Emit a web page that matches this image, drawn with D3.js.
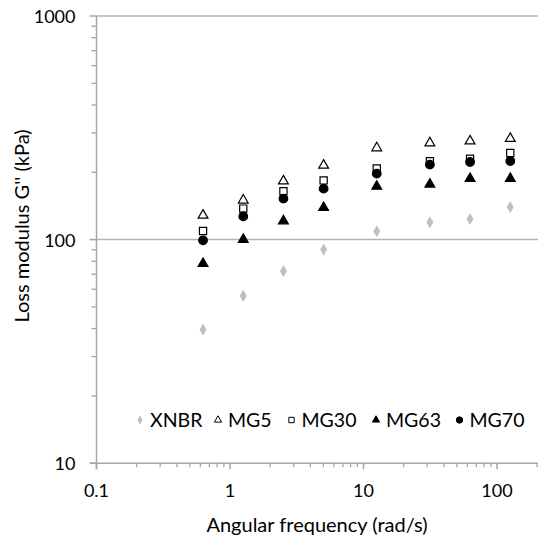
<!DOCTYPE html>
<html>
<head>
<meta charset="utf-8">
<script src="https://cdn.jsdelivr.net/npm/d3@7"></script>
<style>
  html, body { margin: 0; padding: 0; background: #fff; }
  svg { display: block; font-family: Lato, "Open Sans", sans-serif; }
</style>
</head>
<body>
<div id="chart"></div>
<script>
// angular frequency (rad/s)
const frequencies = [0.628, 1.257, 2.513, 5.027, 12.57, 31.42, 62.83, 125.7];

// loss modulus G'' (kPa) per sample
const xnbr = [39.6, 56, 72.4, 90.2, 108.9, 119.5, 123.6, 139.9];
const mg5  = [128.4, 150, 182.8, 215, 257, 270.4, 276, 283];
const mg30 = [109.3, 137.6, 164.4, 184, 207.8, 224, 230, 244];
const mg63 = [78.1, 100, 121.1, 139, 173, 176.8, 187.4, 187.4];
const mg70 = [99.3, 127, 152.5, 169, 197.3, 216.5, 222.4, 224.7];

const seriesNames = ["XNBR", "MG5", "MG30", "MG63", "MG70"];
const seriesValues = [xnbr, mg5, mg30, mg63, mg70];

const xTickValues = [0.1, 1, 10, 100];
const yTickValues = [10, 100, 1000];

function renderChart() {
  const W = 538, H = 540;
  const margin = { top: 16, left: 96.5 };
  const decadeX = 133.5, decadeY = 223.6;

  const svg = d3.select("#chart").append("svg")
    .attr("width", W).attr("height", H);

  // Scales (x axis runs to 1000, cut off by the picture edge)
  const x = d3.scaleLog().domain([0.1, 1000]).range([margin.left, margin.left + 4 * decadeX]);
  const y = d3.scaleLog().domain([10, 1000]).range([margin.top + 2 * decadeY, margin.top]);

  const axisColor = "#a6a6a6";

  // Gridlines
  svg.append("g").selectAll("line")
    .data(yTickValues.filter(d => d > 10))
    .join("line")
    .attr("x1", x(0.1)).attr("x2", W)
    .attr("y1", d => y(d)).attr("y2", d => y(d))
    .attr("stroke", "#b3b3b3").attr("stroke-width", 1.5);

  // Minor ticks
  const minorX = [];
  for (let e = -1; e < 3; e++) for (let m = 2; m <= 9; m++) minorX.push(m * Math.pow(10, e));
  const minorY = [];
  for (let e = 1; e < 3; e++) for (let m = 2; m <= 9; m++) minorY.push(m * Math.pow(10, e));

  const xAxis = svg.append("g").attr("transform", `translate(0, ${y(10)})`);
  xAxis.append("line").attr("x1", x(0.1) - 6).attr("x2", W).attr("stroke", axisColor).attr("stroke-width", 1.5);
  xAxis.selectAll(".minor").data(minorX).join("line")
    .attr("x1", d => x(d)).attr("x2", d => x(d)).attr("y1", 0).attr("y2", 4)
    .attr("stroke", axisColor).attr("stroke-width", 1.3);
  xAxis.selectAll(".major").data(xTickValues.concat([1000])).join("line")
    .attr("x1", d => x(d)).attr("x2", d => x(d)).attr("y1", 0).attr("y2", 6)
    .attr("stroke", axisColor).attr("stroke-width", 1.5);
  xAxis.selectAll("text").data(xTickValues).join("text")
    .attr("x", d => x(d)).attr("y", 34)
    .attr("text-anchor", "middle")
    .attr("font-size", 18).attr("fill", "#000")
    .text(d => d3.format("")(d));

  const yAxis = svg.append("g").attr("transform", `translate(${x(0.1)}, 0)`);
  yAxis.append("line").attr("y1", y(1000)).attr("y2", y(10) + 6).attr("stroke", axisColor).attr("stroke-width", 1.5);
  yAxis.selectAll(".minor").data(minorY).join("line")
    .attr("x1", -5).attr("x2", 0).attr("y1", d => y(d)).attr("y2", d => y(d))
    .attr("stroke", axisColor).attr("stroke-width", 1.3);
  yAxis.selectAll(".major").data(yTickValues).join("line")
    .attr("x1", -7).attr("x2", 0).attr("y1", d => y(d)).attr("y2", d => y(d))
    .attr("stroke", axisColor).attr("stroke-width", 1.5);
  yAxis.selectAll("text").data(yTickValues).join("text")
    .attr("x", -21).attr("y", d => y(d) + 7)
    .attr("text-anchor", "end")
    .attr("font-size", 18).attr("fill", "#000")
    .text(d => d);

  // Axis titles
  svg.append("text")
    .attr("x", 317).attr("y", 532)
    .attr("text-anchor", "middle").attr("font-size", 20)
    .text("Angular frequency (rad/s)");
  svg.append("text")
    .attr("transform", "translate(29, 226) rotate(-90)")
    .attr("text-anchor", "middle").attr("font-size", 20)
    .text("Loss modulus G'' (kPa)");

  // Marker styles
  const styles = {
    XNBR: { type: d3.symbolDiamond, fill: "#bfbfbf", stroke: "none", size: 42 },
    MG5:  { type: d3.symbolTriangle, fill: "#fff", stroke: "#000", size: 42 },
    MG30: { type: d3.symbolSquare, fill: "#fff", stroke: "#000", size: 52 },
    MG63: { type: d3.symbolTriangle, fill: "#000", stroke: "#000", size: 42 },
    MG70: { type: d3.symbolCircle, fill: "#000", stroke: "#000", size: 58 }
  };

  seriesNames.forEach((name, i) => {
    const st = styles[name];
    const pts = frequencies.map((f, j) => ({ f, v: seriesValues[i][j] }));
    svg.append("g").selectAll("path").data(pts).join("path")
      .attr("transform", d => `translate(${x(d.f)}, ${y(d.v)})`)
      .attr("d", d3.symbol().type(st.type).size(st.size))
      .attr("fill", st.fill).attr("stroke", st.stroke).attr("stroke-width", 1.2);
  });

  // Legend
  const legendX = [140, 218, 291.5, 376, 459.5];
  const legendY = 420;
  const legend = svg.append("g");
  seriesNames.forEach((name, i) => {
    const st = styles[name];
    legend.append("path")
      .attr("transform", `translate(${legendX[i]}, ${legendY})`)
      .attr("d", d3.symbol().type(st.type).size(st.size * 0.55))
      .attr("fill", st.fill).attr("stroke", st.stroke).attr("stroke-width", 1);
    legend.append("text")
      .attr("x", legendX[i] + 10).attr("y", legendY + 7)
      .attr("font-size", 19.5)
      .text(name);
  });
}

renderChart();
</script>
</body>
</html>
